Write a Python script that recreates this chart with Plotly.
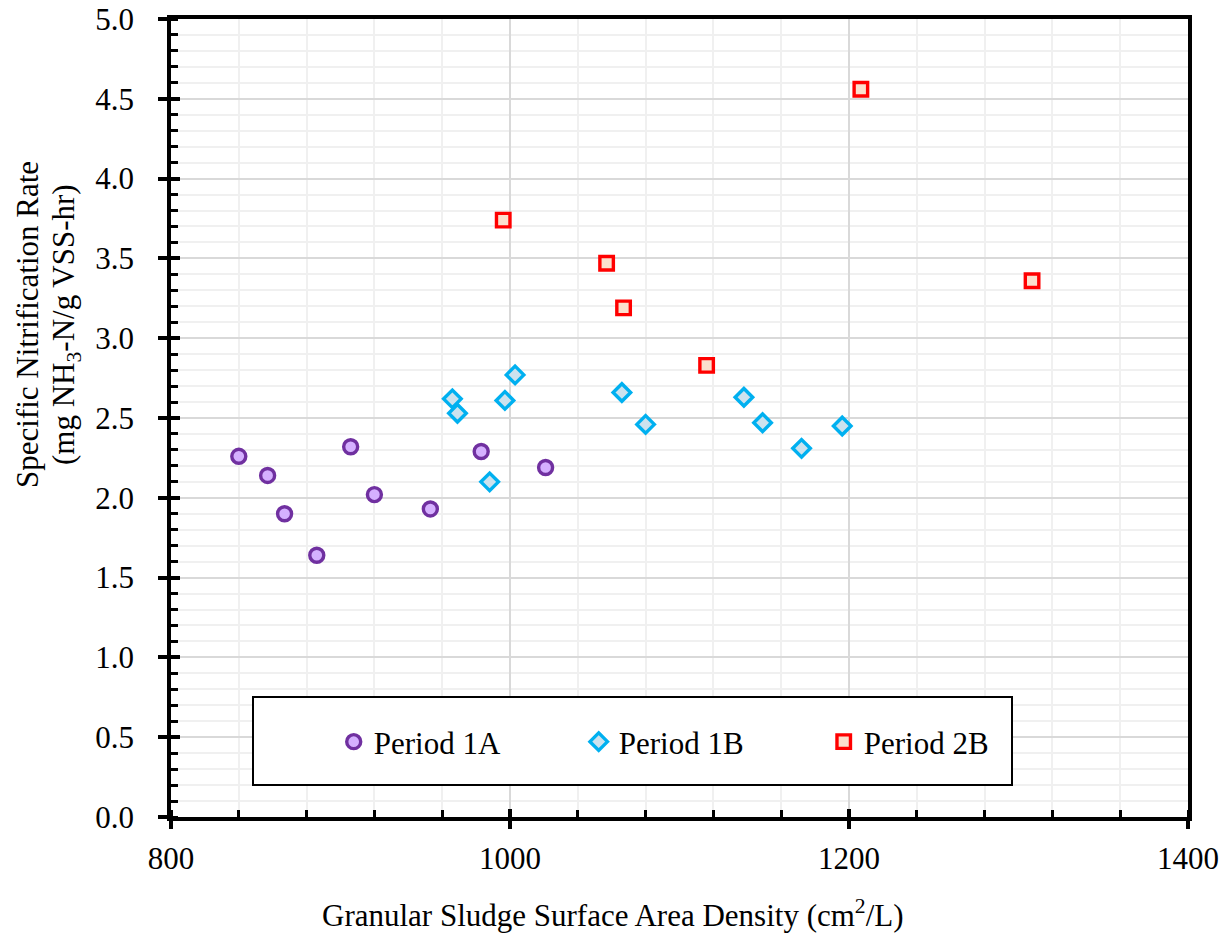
import plotly.graph_objects as go

# ---- data ----
p1a_x = [840, 857, 867, 886, 906, 920, 953, 983, 1021]
p1a_y = [2.26, 2.14, 1.90, 1.64, 2.32, 2.02, 1.93, 2.29, 2.19]

p1b_x = [966, 969, 988, 997, 1003, 1066, 1080, 1138, 1149, 1172, 1196]
p1b_y = [2.62, 2.53, 2.10, 2.61, 2.77, 2.66, 2.46, 2.63, 2.47, 2.31, 2.45]

p2b_x = [996, 1057, 1067, 1116, 1207, 1308]
p2b_y = [3.74, 3.47, 3.19, 2.83, 4.56, 3.36]

series_names = ["Period 1A", "Period 1B", "Period 2B"]
x_title = "Granular Sludge Surface Area Density (cm<sup>2</sup>/L)"
y_title_lines = ["Specific Nitrification Rate", "(mg NH<sub>3</sub>-N/g VSS-hr)"]

FONT = "Liberation Serif, Times New Roman, serif"
FS = 31

# plot-area geometry in screen pixels (page has an 8px body margin)
PL, PR, PT, PB = 171, 1188, 19, 817
OFF = 8
PW, PH = PR - PL, PB - PT

fig = go.Figure()
fig.add_trace(go.Scatter(
    x=p1a_x, y=p1a_y, mode="markers", name=series_names[0],
    marker=dict(symbol="circle", size=14, color="#D5B0FF",
                line=dict(color="#7030A0", width=3.4))))
fig.add_trace(go.Scatter(
    x=p1b_x, y=p1b_y, mode="markers", name=series_names[1],
    marker=dict(symbol="diamond", size=13.5, color="#CCE2EE",
                line=dict(color="#00B0F0", width=3.4))))
fig.add_trace(go.Scatter(
    x=p2b_x, y=p2b_y, mode="markers", name=series_names[2],
    marker=dict(symbol="square", size=13.5, color="#FBE0CE",
                line=dict(color="#FF0000", width=3.4))))

fig.update_layout(
    width=1230, height=936,
    margin=dict(l=PL - OFF, r=1230 - (PR - OFF), t=PT - OFF, b=936 - (PB - OFF)),
    paper_bgcolor="white", plot_bgcolor="white",
    font=dict(family=FONT, size=FS, color="black"),
    showlegend=True,
    legend=dict(orientation="h", x=0.160, xanchor="left", y=0.094, yanchor="middle",
                bgcolor="rgba(0,0,0,0)", borderwidth=0, entrywidth=200,
                font=dict(family=FONT, size=FS, color="black"),
                itemwidth=30),
    xaxis=dict(
        range=[800, 1400], dtick=200, tick0=800, automargin=False,
        ticklabeloverflow="allow",
        showline=True, linecolor="black", linewidth=3.5, mirror=True,
        ticks="outside", ticklen=8, tickwidth=3.5, tickcolor="black",
        showgrid=True, gridcolor="#D9D9D9", gridwidth=1.5,
        zeroline=False, ticklabelstandoff=3,
        tickfont=dict(family=FONT, size=FS, color="black"),
        minor=dict(dtick=40, ticks="inside", ticklen=7, tickwidth=3, tickcolor="black",
                   showgrid=True, gridcolor="#F0F0F0", gridwidth=1.5),
    ),
    yaxis=dict(
        range=[0, 5], dtick=0.5, tick0=0, tickformat=".1f", automargin=False,
        ticklabeloverflow="allow",
        showline=True, linecolor="black", linewidth=3.5, mirror=True,
        ticks="outside", ticklen=9, tickwidth=3.5, tickcolor="black",
        showgrid=True, gridcolor="#D9D9D9", gridwidth=1.5,
        zeroline=False, ticklabelstandoff=18,
        tickfont=dict(family=FONT, size=FS, color="black"),
        minor=dict(dtick=0.1, ticks="inside", ticklen=7, tickwidth=3, tickcolor="black",
                   showgrid=True, gridcolor="#F0F0F0", gridwidth=1.5),
    ),
    xaxis2=dict(overlaying="x", matches="x", anchor="y", side="bottom", automargin=False,
                range=[800, 1400], dtick=200, tick0=800,
                ticks="inside", ticklen=8, tickwidth=3.5, tickcolor="black",
                showticklabels=False, showgrid=False, showline=False, zeroline=False),
    yaxis2=dict(overlaying="y", matches="y", anchor="x", side="left", automargin=False,
                range=[0, 5], dtick=0.5, tick0=0,
                ticks="inside", ticklen=9, tickwidth=3.5, tickcolor="black",
                showticklabels=False, showgrid=False, showline=False, zeroline=False),
)

# legend frame
fig.add_shape(type="rect", xref="paper", yref="paper",
              x0=(253 - PL) / PW, x1=(1012 - PL) / PW,
              y0=(PB - 785) / PH, y1=(PB - 697) / PH,
              line=dict(color="black", width=2), fillcolor="white", layer="above")

# axis titles (offset like the reference)
fig.add_annotation(text=x_title, xref="paper", yref="paper",
                   x=(613 - PL) / PW, y=(PB - 913) / PH,
                   xanchor="center", yanchor="middle", showarrow=False,
                   font=dict(family=FONT, size=FS, color="black"))
for cx, line in zip([27, 66], y_title_lines):
    fig.add_annotation(text=line, xref="paper", yref="paper",
                       x=(cx - PL) / PW, y=(PB - 325) / PH,
                       xanchor="center", yanchor="middle", showarrow=False, textangle=-90,
                       font=dict(family=FONT, size=FS, color="black"))

# dummy trace to activate overlay axes for crossing major ticks
fig.add_trace(go.Scatter(x=[None], y=[None], xaxis="x2", yaxis="y2",
                         showlegend=False, hoverinfo="skip"))

fig.write_html("out.html")
